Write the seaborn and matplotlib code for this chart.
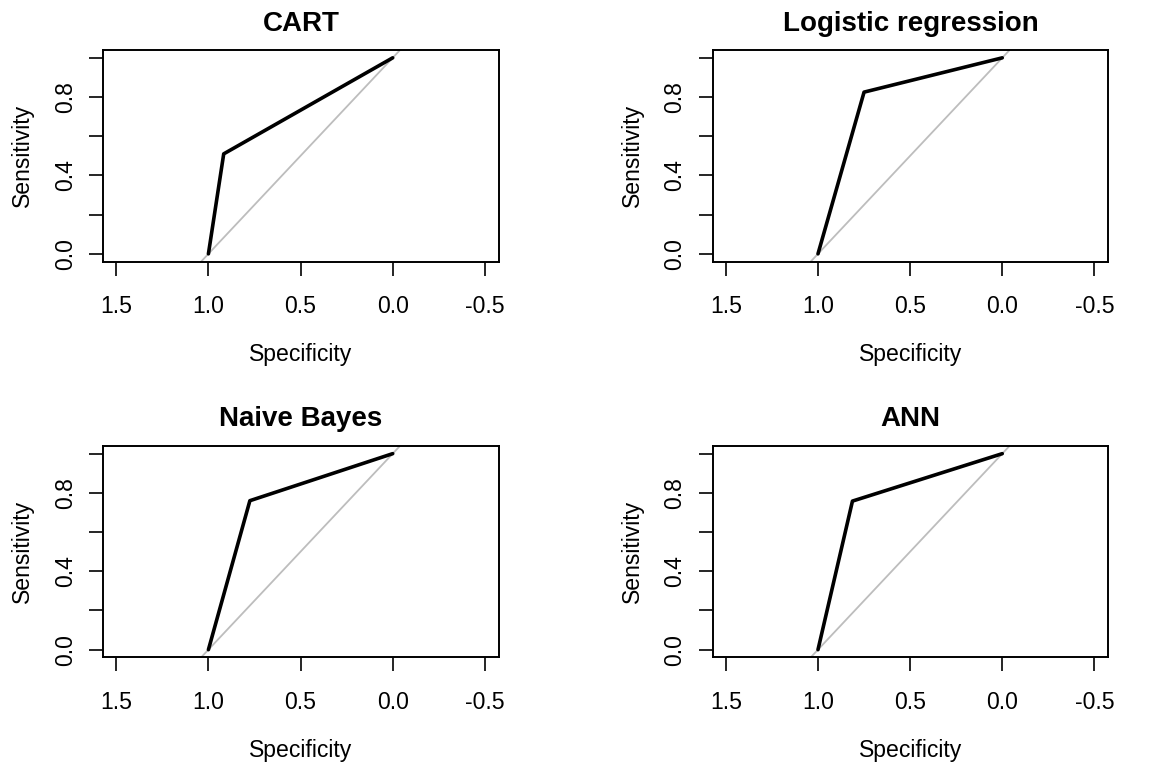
import matplotlib
matplotlib.use("Agg")
import matplotlib.pyplot as plt
import seaborn as sns
import pandas as pd

# --- ROC curve points ---
models = ["CART", "Logistic regression", "Naive Bayes", "ANN"]
cart_spec = [1.0, 0.917, 0.0]
cart_sens = [0.0, 0.51, 1.0]
logit_spec = [1.0, 0.75, 0.0]
logit_sens = [0.0, 0.825, 1.0]
nb_spec = [1.0, 0.775, 0.0]
nb_sens = [0.0, 0.76, 1.0]
ann_spec = [1.0, 0.813, 0.0]
ann_sens = [0.0, 0.758, 1.0]

x_ticks = [1.5, 1.0, 0.5, 0.0, -0.5]
x_ticklabels = ["1.5", "1.0", "0.5", "0.0", "-0.5"]
y_ticks = [0.0, 0.2, 0.4, 0.6, 0.8, 1.0]
y_ticklabels = ["0.0", "", "0.4", "", "0.8", ""]

curves = {
    "CART": (cart_spec, cart_sens),
    "Logistic regression": (logit_spec, logit_sens),
    "Naive Bayes": (nb_spec, nb_sens),
    "ANN": (ann_spec, ann_sens),
}

sns.set_style("ticks")
plt.rcParams["font.family"] = ["Liberation Sans", "DejaVu Sans"]
plt.rcParams["text.color"] = "black"
plt.rcParams["axes.labelcolor"] = "black"

fig, axes = plt.subplots(2, 2, figsize=(11.51, 7.69), dpi=100)
fig.subplots_adjust(left=0.0895, right=0.963, top=0.935, bottom=0.145,
                    wspace=0.54, hspace=0.87)

for ax, name in zip(axes.flat, models):
    spec, sens = curves[name]
    df = pd.DataFrame({"Specificity": spec, "Sensitivity": sens})
    # chance diagonal
    ax.axline((1, 0), (0, 1), color="#bdbdbd", lw=1.3, zorder=1)
    sns.lineplot(data=df, x="Specificity", y="Sensitivity", sort=False,
                 color="black", lw=2.6, ax=ax, zorder=3)
    ax.set_xlim(1.572, -0.576)
    ax.set_ylim(-0.04, 1.04)
    ax.set_xticks(x_ticks)
    ax.set_xticklabels(x_ticklabels)
    ax.set_yticks(y_ticks)
    ax.set_yticklabels(y_ticklabels, rotation=90, va="center")
    ax.tick_params(axis="both", length=10, width=1.2, labelsize=16.6,
                   colors="black")
    ax.tick_params(axis="x", pad=14)
    ax.tick_params(axis="y", pad=9)
    for sp in ax.spines.values():
        sp.set_visible(True)
        sp.set_linewidth(1.4)
        sp.set_color("black")
    ax.set_title(name, fontsize=20, fontweight="bold", pad=14)
    ax.set_xlabel("Specificity", fontsize=16.6, labelpad=18)
    ax.set_ylabel("Sensitivity", fontsize=16.6, labelpad=14)

plt.savefig("out.png", dpi=100)
